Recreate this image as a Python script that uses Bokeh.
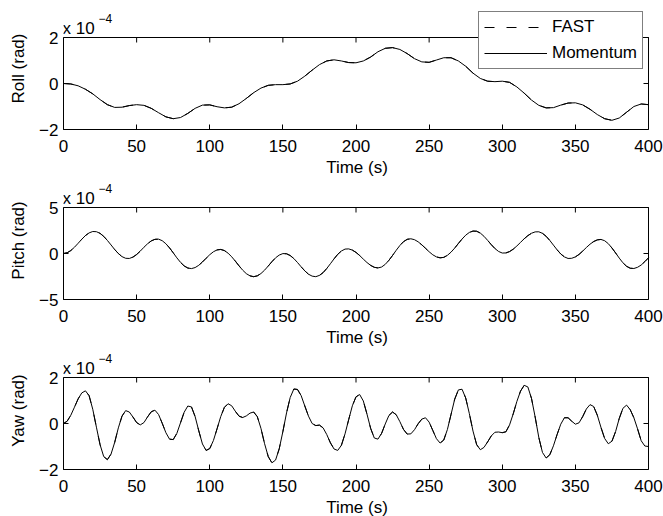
import numpy as np
from bokeh.plotting import figure
from bokeh.models import Range1d, FixedTicker, Label, Legend, LegendItem, Span
from bokeh.layouts import column
from bokeh.embed import file_html
from bokeh.resources import INLINE

# ---------------- data (values in units of 1e-4 rad) ----------------
t_roll = np.arange(0, 401, 5)
roll = [0.00, -0.02, -0.10, -0.25, -0.45, -0.70, -0.92, -1.04, -1.03, -0.96,
        -0.92, -0.95, -1.08, -1.27, -1.45, -1.53, -1.48, -1.30, -1.08, -0.94,
        -0.93, -1.01, -1.06, -1.03, -0.88, -0.65, -0.40, -0.20, -0.08, -0.05,
        -0.05, -0.02, 0.10, 0.32, 0.58, 0.82, 0.98, 1.03, 0.98, 0.91,
        0.90, 0.98, 1.15, 1.38, 1.53, 1.56, 1.48, 1.30, 1.08, 0.94,
        0.92, 1.02, 1.12, 1.12, 0.98, 0.75, 0.45, 0.22, 0.10, 0.08,
        0.10, 0.05, -0.15, -0.42, -0.72, -0.95, -1.06, -1.05, -0.94, -0.85,
        -0.84, -0.93, -1.12, -1.35, -1.53, -1.60, -1.50, -1.25, -1.00, -0.89,
        -0.92]

t_fine = np.arange(0, 400.1, 2.5)
pitch = [0.00, 0.08, 0.32, 0.68, 1.11, 1.55, 1.95, 2.24, 2.39, 2.37,
         2.19, 1.86, 1.42, 0.93, 0.43, 0.00, -0.34, -0.52, -0.54, -0.39,
         -0.11, 0.26, 0.68, 1.06, 1.37, 1.54, 1.56, 1.39, 1.06, 0.61,
         0.08, -0.47, -0.96, -1.35, -1.58, -1.64, -1.53, -1.28, -0.92, -0.52,
         -0.13, 0.19, 0.39, 0.44, 0.32, 0.04, -0.36, -0.83, -1.34, -1.81,
         -2.19, -2.43, -2.52, -2.43, -2.18, -1.81, -1.36, -0.89, -0.47, -0.17,
         -0.01, -0.03, -0.22, -0.55, -0.98, -1.45, -1.89, -2.25, -2.46, -2.52,
         -2.38, -2.08, -1.63, -1.11, -0.58, -0.09, 0.27, 0.48, 0.50, 0.37,
         0.12, -0.22, -0.61, -0.98, -1.29, -1.50, -1.57, -1.47, -1.18, -0.74,
         -0.21, 0.35, 0.87, 1.29, 1.54, 1.60, 1.50, 1.27, 0.94, 0.57,
         0.19, -0.14, -0.37, -0.47, -0.42, -0.20, 0.15, 0.59, 1.09, 1.57,
         1.99, 2.29, 2.44, 2.42, 2.22, 1.87, 1.43, 0.96, 0.54, 0.22,
         0.05, 0.06, 0.21, 0.47, 0.82, 1.21, 1.60, 1.94, 2.20, 2.35,
         2.36, 2.19, 1.87, 1.42, 0.91, 0.40, -0.05, -0.37, -0.54, -0.52,
         -0.37, -0.10, 0.26, 0.65, 1.01, 1.30, 1.48, 1.53, 1.39, 1.07,
         0.60, 0.06, -0.50, -1.01, -1.39, -1.60, -1.63, -1.50, -1.25, -0.88,
         -0.47]

yaw = [0.00, 0.10, 0.36, 0.71, 1.07, 1.33, 1.42, 1.21, 0.62, -0.16,
       -0.92, -1.44, -1.57, -1.33, -0.82, -0.19, 0.32, 0.56, 0.50, 0.28,
       0.04, -0.06, 0.04, 0.29, 0.51, 0.58, 0.39, 0.01, -0.40, -0.68,
       -0.70, -0.43, 0.03, 0.49, 0.76, 0.72, 0.30, -0.32, -0.89, -1.17,
       -1.09, -0.74, -0.23, 0.30, 0.70, 0.86, 0.77, 0.53, 0.32, 0.26,
       0.33, 0.45, 0.50, 0.30, -0.21, -0.88, -1.44, -1.71, -1.59, -1.10,
       -0.35, 0.46, 1.13, 1.50, 1.48, 1.21, 0.76, 0.32, 0.00, -0.09,
       -0.07, -0.19, -0.48, -0.84, -1.11, -1.17, -0.95, -0.45, 0.17, 0.77,
       1.16, 1.26, 0.98, 0.41, -0.21, -0.63, -0.68, -0.43, -0.02, 0.35,
       0.50, 0.38, 0.08, -0.26, -0.46, -0.45, -0.27, -0.01, 0.19, 0.25,
       0.06, -0.30, -0.66, -0.85, -0.72, -0.26, 0.40, 1.06, 1.46, 1.49,
       1.11, 0.43, -0.33, -0.92, -1.14, -1.04, -0.80, -0.54, -0.38, -0.37,
       -0.40, -0.36, -0.06, 0.42, 0.96, 1.41, 1.66, 1.59, 1.09, 0.28,
       -0.61, -1.26, -1.50, -1.36, -0.97, -0.48, -0.03, 0.25, 0.25, 0.10,
       -0.03, 0.03, 0.30, 0.63, 0.82, 0.74, 0.36, -0.17, -0.65, -0.88,
       -0.77, -0.35, 0.22, 0.66, 0.80, 0.60, 0.25, -0.23, -0.75, -0.98,
       -1.00]

x_ticks = [0, 50, 100, 150, 200, 250, 300, 350, 400]
series_names = ["FAST", "Momentum"]
panel_labels = ["Roll (rad)", "Pitch (rad)", "Yaw (rad)"]
panel_limits = [2, 5, 2]
x_label = "Time (s)"
X_MAX = 400

FONT = "Liberation Sans"
FS = "17px"
BOX_W = 585     # visible axes box width in px
BOX_H = 92      # visible axes box height in px
TICK = 5        # inward tick length in px


def style_axis(ax):
    ax.axis_line_color = "black"
    ax.major_tick_line_color = "black"
    ax.major_tick_in = TICK
    ax.major_tick_out = 0
    ax.minor_tick_line_color = None
    ax.major_label_text_font = FONT
    ax.major_label_text_font_size = FS
    ax.major_label_text_color = "black"
    ax.axis_label_text_font = FONT
    ax.axis_label_text_font_size = FS
    ax.axis_label_text_font_style = "normal"
    ax.axis_label_text_color = "black"


def make_panel(t, y, ylabel, lim, top_border, ext, with_legend=False):
    # the frame is extended upward by `ext` px (and 2 px to the right) so that
    # the exponent label, the legend and the right edge of the box stay visible
    ymax = lim + 2 * lim * ext / BOX_H
    xmax = X_MAX * (BOX_W + 2) / BOX_W
    p = figure(frame_width=BOX_W + 2, frame_height=BOX_H + ext,
               x_range=Range1d(0, xmax), y_range=Range1d(-lim, ymax),
               output_backend="svg", toolbar_location=None,
               min_border_left=63, min_border_right=13,
               min_border_top=top_border, min_border_bottom=50,
               background_fill_color="white", border_fill_color="white")
    p.xgrid.visible = False
    p.ygrid.visible = False
    p.outline_line_color = None

    yt = [-lim, 0, lim]
    over = {v: ("\u2212" + str(abs(v)) if v < 0 else str(v)) for v in yt}

    xa = p.xaxis[0]
    xa.ticker = FixedTicker(ticks=x_ticks)
    xa.bounds = (0, X_MAX)
    xa.axis_label = x_label
    xa.major_label_standoff = 10
    xa.axis_label_standoff = 3
    style_axis(xa)

    ya = p.yaxis[0]
    ya.ticker = FixedTicker(ticks=yt)
    ya.bounds = (-lim, lim)
    ya.major_label_overrides = over
    ya.axis_label = ylabel
    ya.major_label_standoff = 5
    ya.axis_label_standoff = 8
    style_axis(ya)

    # top and right edges of the box with inward ticks
    tick_y = TICK * 2 * lim / BOX_H
    tick_x = TICK * X_MAX / BOX_W
    n = len(x_ticks)
    p.segment(x0=[0], y0=[lim], x1=[X_MAX], y1=[lim], line_color="black", line_width=1)
    p.segment(x0=[X_MAX], y0=[-lim], x1=[X_MAX], y1=[lim], line_color="black", line_width=1)
    p.segment(x0=x_ticks, y0=[lim] * n, x1=x_ticks, y1=[lim - tick_y] * n,
              line_color="black", line_width=1)
    p.segment(x0=[X_MAX] * 3, y0=yt, x1=[X_MAX - tick_x] * 3, y1=yt,
              line_color="black", line_width=1)

    r_fast = p.line(t, y, line_color="black", line_width=1, line_dash="10 12")
    r_mom = p.line(t, y, line_color="black", line_width=1)

    p.add_layout(Label(x=0, y=lim, x_offset=-1, y_offset=9, text="x 10",
                       text_font=FONT, text_font_size=FS, text_color="black",
                       text_baseline="alphabetic", text_align="left"))
    p.add_layout(Label(x=0, y=lim, x_offset=35, y_offset=19, text="\u22124",
                       text_font=FONT, text_font_size="12px", text_color="black",
                       text_baseline="alphabetic", text_align="left"))

    if with_legend:
        leg = Legend(items=[LegendItem(label=series_names[0], renderers=[r_fast]),
                            LegendItem(label=series_names[1], renderers=[r_mom])],
                     location=(415, 60))
        leg.label_text_font = FONT
        leg.label_text_font_size = FS
        leg.label_text_color = "black"
        leg.border_line_color = "black"
        leg.border_line_width = 1
        leg.background_fill_color = "white"
        leg.background_fill_alpha = 1.0
        leg.padding = 5
        leg.spacing = 6
        leg.margin = 0
        leg.glyph_width = 63
        leg.glyph_height = 20
        leg.label_height = 20
        leg.label_standoff = 5
        p.add_layout(leg, "center")
    return p


p1 = make_panel(t_roll, roll, panel_labels[0], panel_limits[0], 7, 30, with_legend=True)
p2 = make_panel(t_fine, pitch, panel_labels[1], panel_limits[1], 2, 26)
p3 = make_panel(t_fine, yaw, panel_labels[2], panel_limits[2], 2, 26)

layout = column(p1, p2, p3, spacing=0)
open("out.html", "w").write(file_html(layout, INLINE))
